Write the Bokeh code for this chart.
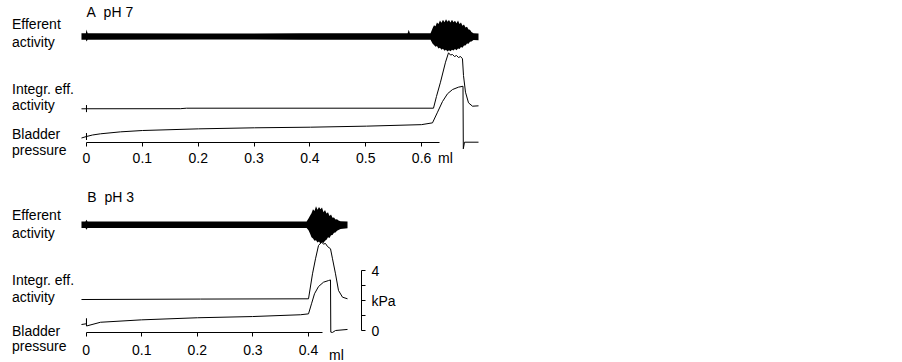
from bokeh.plotting import figure
from bokeh.models import Range1d, LinearAxis, FixedTicker, Label
from bokeh.layouts import column
from bokeh.embed import file_html
from bokeh.resources import INLINE

# ---------------- Panel A (pH 7) ----------------
# Efferent activity envelope (a.u.), upper / lower edge
a_eff_ml  = [-0.009, -0.001, 0.0, 0.002, 0.204, 0.383, 0.575, 0.577, 0.579, 0.616,
             0.6195, 0.6222, 0.6249, 0.6275, 0.6302, 0.6329, 0.6356, 0.6383, 0.6410,
             0.6437, 0.6464, 0.6490, 0.6517, 0.6544, 0.6571, 0.6598, 0.6625, 0.6652,
             0.6679, 0.6705, 0.6732, 0.6759, 0.6786, 0.6813, 0.6840, 0.6866, 0.6893,
             0.6929, 0.7019]
a_eff_top = [0.9, 0.9, 2.0, 0.9, 0.85, 0.9, 0.9, 1.9, 0.9, 0.9,
             2.3, 3.2, 2.9, 4.0, 3.6, 4.6, 3.9, 4.8, 4.1,
             4.9, 4.2, 4.7, 4.0, 4.8, 4.1, 4.5, 3.8, 4.6,
             3.6, 4.0, 3.1, 3.4, 2.6, 2.8, 2.0, 1.9, 1.3,
             0.9, 0.85]
a_eff_bot = [-0.9, -0.9, -1.43, -0.9, -0.85, -0.9, -0.9, -0.9, -0.9, -0.9,
             -2.0, -2.4, -2.9, -2.7, -3.4, -3.2, -3.8, -3.5, -4.1,
             -3.8, -4.3, -3.9, -4.2, -3.8, -4.0, -3.6, -3.9, -3.4,
             -3.6, -3.0, -3.2, -2.6, -2.6, -2.0, -2.1, -1.5, -1.4,
             -1.0, -1.1]

# Integrated efferent activity (% of max)
a_int_ml  = [-0.009, 0.0, 0.0, 0.0, 0.0, 0.168, 0.179, 0.6213, 0.6266, 0.6338, 0.6428,
             0.6482, 0.6517, 0.6553, 0.6589, 0.6625, 0.6661, 0.6697, 0.6732, 0.6750,
             0.6786, 0.6840, 0.6911, 0.7019]
a_int_val = [-1.1, -1.0, 5.4, -7.0, -1.0, -0.9, 0.0, 0.0, 21.1, 46.9, 83.0,
             100.0, 96.0, 96.9, 93.3, 95.1, 91.5, 93.3, 89.2, 59.0,
             28.9, 9.7, 3.6, 4.3]

# Bladder pressure (kPa)
a_prs_ml  = [-0.009, 0.0, 0.0, 0.0, 0.0, 0.0107, 0.0251, 0.0609, 0.1003, 0.2005,
             0.3008, 0.4011, 0.5013, 0.5998, 0.6195, 0.6285, 0.6374, 0.6464, 0.6553,
             0.6661, 0.6741, 0.6747, 0.6768, 0.7019]
a_prs_kpa = [0.28, 0.38, 0.6, 0.15, 0.38, 0.48, 0.56, 0.69, 0.78, 0.89,
             0.96, 1.0, 1.07, 1.17, 1.29, 2.0, 2.71, 3.23, 3.51,
             3.67, 3.73, -0.44, 0.0, 0.0]

a_ticks = [0, 0.1, 0.2, 0.3, 0.4, 0.5, 0.6]
a_tick_labels = ["0", "0.1", "0.2", "0.3", "0.4", "0.5", "0.6"]

# ---------------- Panel B (pH 3) ----------------
b_eff_ml  = [-0.0085, -0.0013, 0.0005, 0.0023, 0.2, 0.3966,
             0.4000, 0.4027, 0.4054, 0.4081, 0.4108, 0.4135, 0.4162, 0.4189, 0.4216,
             0.4243, 0.4270, 0.4297, 0.4324, 0.4351, 0.4378, 0.4405, 0.4432, 0.4459,
             0.4486, 0.4513, 0.4540, 0.4576, 0.4702]
b_eff_top = [0.95, 0.95, 1.41, 0.95, 0.9, 0.95,
             1.8, 2.6, 3.3, 4.4, 3.9, 5.3, 4.3, 5.1, 4.4,
             4.9, 3.6, 4.2, 3.2, 3.6, 2.5, 2.9, 2.0, 2.1,
             1.5, 1.6, 1.2, 1.0, 0.95]
b_eff_bot = [-0.95, -0.95, -1.44, -0.95, -0.9, -0.95,
             -1.6, -2.5, -3.6, -3.9, -4.6, -4.4, -5.1, -4.8, -5.4,
             -5.0, -5.2, -4.6, -4.3, -3.6, -3.8, -3.0, -2.9, -2.3,
             -2.2, -1.7, -1.5, -1.2, -1.0]

b_int_ml  = [-0.0085, 0.2057, 0.4000, 0.4072, 0.4126, 0.4180, 0.4234, 0.4270, 0.4306,
             0.4342, 0.4396, 0.4432, 0.4486, 0.4540, 0.4612, 0.4702]
b_int_val = [-1.3, -0.5, 0.0, 45.1, 72.2, 96.2, 102.2, 98.9, 99.8,
             94.4, 90.3, 72.2, 45.1, 15.0, 2.9, 0.0]

b_prs_ml  = [-0.0085, 0.0005, 0.0005, 0.0005, 0.0257, 0.0995, 0.2003, 0.2992, 0.3856,
             0.4000, 0.4054, 0.4108, 0.4180, 0.4270, 0.4360, 0.4396, 0.4401, 0.4432,
             0.4486, 0.4702]
b_prs_kpa = [0.4, 0.45, 0.8, 0.3, 0.55, 0.71, 0.85, 0.93, 1.05,
             1.11, 1.78, 2.45, 2.93, 3.22, 3.33, 3.37, -0.11, -0.13,
             0.0, 0.07]

b_ticks = [0, 0.1, 0.2, 0.3, 0.4]
b_tick_labels = ["0", "0.1", "0.2", "0.3", "0.4"]

kpa_ticks = [0, 1, 2, 3, 4]
kpa_labels = ["0", "", "kPa", "", "4"]

FONT = "Liberation Sans"
INK = "black"
NB = "\u00a0"


def make_panel(height, xr, yr_kpa, yr_int, yr_eff):
    p = figure(width=500, height=height, output_backend="svg", toolbar_location=None,
               x_range=Range1d(*xr), y_range=Range1d(*yr_kpa),
               x_axis_location=None, y_axis_location=None, min_border=0)
    p.extra_y_ranges = {"int": Range1d(*yr_int), "eff": Range1d(*yr_eff)}
    p.outline_line_color = None
    p.xgrid.visible = False
    p.ygrid.visible = False
    p.background_fill_color = "white"
    p.border_fill_color = "white"
    return p


def add_xaxis(p, ticks, labels, bounds, loc, standoff):
    ax = LinearAxis(ticker=FixedTicker(ticks=ticks), bounds=bounds, fixed_location=loc,
                    major_label_overrides={t: l for t, l in zip(ticks, labels)},
                    major_tick_in=0, major_tick_out=4, minor_tick_line_color=None,
                    axis_line_color=INK, major_tick_line_color=INK, axis_line_width=1,
                    major_label_text_font=FONT, major_label_text_font_size="14px",
                    major_label_text_color=INK, major_label_standoff=standoff)
    p.add_layout(ax, "below")


def add_text(p, x, y, text, align="left"):
    p.add_layout(Label(x=x, y=y, text=text, text_font=FONT, text_font_size="14px",
                       text_color=INK, text_align=align, text_baseline="middle"))


# ---------- figure A (page rows 0..180) ----------
pa = make_panel(180, (-0.15398, 0.74127), (-2.5533, 9.4467), (-130.51, 194.40), (-41.143, 10.286))
pa.varea(x=a_eff_ml, y1=a_eff_bot, y2=a_eff_top, y_range_name="eff", fill_color=INK)
pa.line(a_int_ml, a_int_val, y_range_name="int", line_color=INK, line_width=1)
pa.line(a_prs_ml, a_prs_kpa, line_color=INK, line_width=1)
add_xaxis(pa, a_ticks, a_tick_labels, (0, 0.632), 0, 7)
add_text(pa, 0.0, 8.65, "A" + NB + NB + "pH" + NB + "7")
for yy, t in [(7.85, "Efferent"), (6.65, "activity"), (3.56, "Integr. eff."),
              (2.45, "activity"), (0.58, "Bladder"), (-0.49, "pressure")]:
    add_text(pa, -0.1334, yy, t)
add_text(pa, 0.6294, -1.08, "ml")

# ---------- figure B (page rows 180..362) ----------
pb = make_panel(182, (-0.15421, 0.74548), (-2.1333, 10.0), (-114.98, 213.54), (-39.357, 12.643))
pb.varea(x=b_eff_ml, y1=b_eff_bot, y2=b_eff_top, y_range_name="eff", fill_color=INK)
pb.line(b_int_ml, b_int_val, y_range_name="int", line_color=INK, line_width=1)
pb.line(b_prs_ml, b_prs_kpa, line_color=INK, line_width=1)
add_xaxis(pb, b_ticks, b_tick_labels, (0, 0.425), -0.113, 9)

ra = LinearAxis(ticker=FixedTicker(ticks=kpa_ticks), bounds=(0, 4), fixed_location=0.4954,
                major_label_overrides={t: l for t, l in zip(kpa_ticks, kpa_labels)},
                major_tick_in=0, major_tick_out=4, minor_tick_line_color=None,
                axis_line_color=INK, major_tick_line_color=INK,
                major_label_text_font=FONT, major_label_text_font_size="14px",
                major_label_text_color=INK, major_label_standoff=6)
pb.add_layout(ra, "right")

add_text(pb, 0.002, 8.93, "B" + NB + NB + "pH" + NB + "3")
for yy, t in [(7.73, "Efferent"), (6.51, "activity"), (3.4, "Integr. eff."),
              (2.22, "activity"), (0.0, "Bladder"), (-1.05, "pressure")]:
    add_text(pb, -0.1335, yy, t)
add_text(pb, 0.4369, -1.6, "ml")

layout = column(pa, pb, spacing=0)
open("out.html", "w").write(file_html(layout, INLINE))
